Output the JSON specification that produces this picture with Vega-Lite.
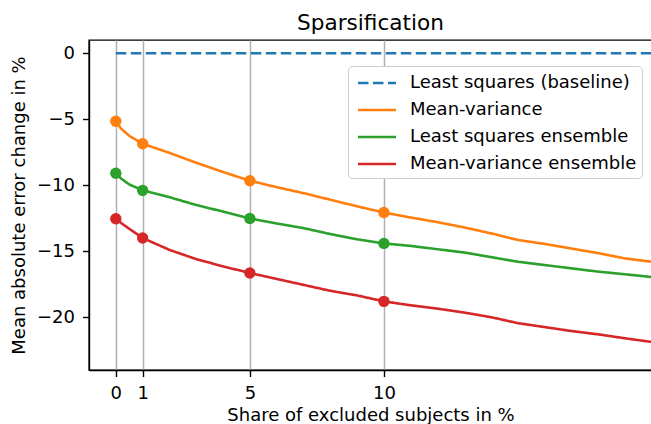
{
  "$schema": "https://vega.github.io/schema/vega-lite/v6.json",
  "width": 563,
  "height": 330,
  "autosize": {"type": "none"},
  "padding": {"left": 89, "top": 40, "right": 0, "bottom": 54},
  "background": "white",
  "title": {"text": "Sparsification", "fontSize": 21.6, "font": "DejaVu Sans", "fontWeight": "normal", "color": "black", "offset": 5, "anchor": "middle"},
  "config": {
    "font": "DejaVu Sans",
    "view": {"stroke": "black", "strokeWidth": 1.4},
    "axis": {
      "labelFont": "DejaVu Sans", "labelFontSize": 18, "labelColor": "black",
      "titleFont": "DejaVu Sans", "titleFontSize": 18, "titleFontWeight": "normal", "titleColor": "black",
      "domainColor": "black", "domainWidth": 1.4,
      "tickColor": "black", "tickWidth": 1.4, "tickSize": 6.5, "labelPadding": 8
    },
    "legend": {
      "labelFont": "DejaVu Sans", "labelFontSize": 18, "labelColor": "black", "labelLimit": 400
    }
  },
  "data": {"values": [
    {"s": "Least squares (baseline)", "x": 0, "y": 0},
    {"s": "Least squares (baseline)", "x": 20, "y": 0},
    {"s": "Mean-variance", "x": 0, "y": -5.15},
    {"s": "Mean-variance", "x": 0.2, "y": -5.72},
    {"s": "Mean-variance", "x": 0.5, "y": -6.25},
    {"s": "Mean-variance", "x": 1, "y": -6.86},
    {"s": "Mean-variance", "x": 2, "y": -7.55},
    {"s": "Mean-variance", "x": 3, "y": -8.3},
    {"s": "Mean-variance", "x": 4, "y": -9.0},
    {"s": "Mean-variance", "x": 5, "y": -9.66},
    {"s": "Mean-variance", "x": 6, "y": -10.15},
    {"s": "Mean-variance", "x": 7, "y": -10.6},
    {"s": "Mean-variance", "x": 8, "y": -11.1},
    {"s": "Mean-variance", "x": 9, "y": -11.6},
    {"s": "Mean-variance", "x": 10, "y": -12.07},
    {"s": "Mean-variance", "x": 11, "y": -12.45},
    {"s": "Mean-variance", "x": 12, "y": -12.8},
    {"s": "Mean-variance", "x": 13, "y": -13.2},
    {"s": "Mean-variance", "x": 14, "y": -13.65},
    {"s": "Mean-variance", "x": 15, "y": -14.15},
    {"s": "Mean-variance", "x": 16, "y": -14.45},
    {"s": "Mean-variance", "x": 17, "y": -14.8},
    {"s": "Mean-variance", "x": 18, "y": -15.15},
    {"s": "Mean-variance", "x": 19, "y": -15.55},
    {"s": "Mean-variance", "x": 20, "y": -15.8},
    {"s": "Least squares ensemble", "x": 0, "y": -9.1},
    {"s": "Least squares ensemble", "x": 0.2, "y": -9.5},
    {"s": "Least squares ensemble", "x": 0.5, "y": -9.94},
    {"s": "Least squares ensemble", "x": 1, "y": -10.39},
    {"s": "Least squares ensemble", "x": 2, "y": -10.91},
    {"s": "Least squares ensemble", "x": 3, "y": -11.5},
    {"s": "Least squares ensemble", "x": 4, "y": -12.0},
    {"s": "Least squares ensemble", "x": 5, "y": -12.52},
    {"s": "Least squares ensemble", "x": 6, "y": -12.9},
    {"s": "Least squares ensemble", "x": 7, "y": -13.25},
    {"s": "Least squares ensemble", "x": 8, "y": -13.7},
    {"s": "Least squares ensemble", "x": 9, "y": -14.1},
    {"s": "Least squares ensemble", "x": 10, "y": -14.41},
    {"s": "Least squares ensemble", "x": 11, "y": -14.6},
    {"s": "Least squares ensemble", "x": 12, "y": -14.85},
    {"s": "Least squares ensemble", "x": 13, "y": -15.1},
    {"s": "Least squares ensemble", "x": 14, "y": -15.45},
    {"s": "Least squares ensemble", "x": 15, "y": -15.8},
    {"s": "Least squares ensemble", "x": 16, "y": -16.05},
    {"s": "Least squares ensemble", "x": 17, "y": -16.3},
    {"s": "Least squares ensemble", "x": 18, "y": -16.55},
    {"s": "Least squares ensemble", "x": 19, "y": -16.75},
    {"s": "Least squares ensemble", "x": 20, "y": -16.96},
    {"s": "Mean-variance ensemble", "x": 0, "y": -12.54},
    {"s": "Mean-variance ensemble", "x": 0.2, "y": -12.87},
    {"s": "Mean-variance ensemble", "x": 0.5, "y": -13.3},
    {"s": "Mean-variance ensemble", "x": 1, "y": -14.0},
    {"s": "Mean-variance ensemble", "x": 2, "y": -14.9},
    {"s": "Mean-variance ensemble", "x": 3, "y": -15.6},
    {"s": "Mean-variance ensemble", "x": 4, "y": -16.15},
    {"s": "Mean-variance ensemble", "x": 5, "y": -16.65},
    {"s": "Mean-variance ensemble", "x": 6, "y": -17.1},
    {"s": "Mean-variance ensemble", "x": 7, "y": -17.55},
    {"s": "Mean-variance ensemble", "x": 8, "y": -18.0},
    {"s": "Mean-variance ensemble", "x": 9, "y": -18.35},
    {"s": "Mean-variance ensemble", "x": 10, "y": -18.8},
    {"s": "Mean-variance ensemble", "x": 11, "y": -19.1},
    {"s": "Mean-variance ensemble", "x": 12, "y": -19.35},
    {"s": "Mean-variance ensemble", "x": 13, "y": -19.65},
    {"s": "Mean-variance ensemble", "x": 14, "y": -20.0},
    {"s": "Mean-variance ensemble", "x": 15, "y": -20.45},
    {"s": "Mean-variance ensemble", "x": 16, "y": -20.75},
    {"s": "Mean-variance ensemble", "x": 17, "y": -21.05},
    {"s": "Mean-variance ensemble", "x": 18, "y": -21.3},
    {"s": "Mean-variance ensemble", "x": 19, "y": -21.6},
    {"s": "Mean-variance ensemble", "x": 20, "y": -21.88}
  ]},
  "encoding": {
    "x": {"field": "x", "type": "quantitative",
      "scale": {"domain": [-1, 20], "nice": false, "zero": false},
      "axis": {"values": [0, 1, 5, 10], "grid": true, "gridColor": "#b0b0b0", "gridWidth": 1.5, "title": "Share of excluded subjects in %", "titlePadding": 4}},
    "y": {"field": "y", "type": "quantitative",
      "scale": {"domain": [-24, 1], "nice": false, "zero": false},
      "axis": {"values": [0, -5, -10, -15, -20], "grid": false, "title": "Mean absolute error change in %", "titlePadding": 8}}
  },
  "layer": [
    {
      "mark": {"type": "line", "strokeWidth": 2.6},
      "encoding": {
        "color": {"field": "s", "type": "nominal",
          "scale": {"domain": ["Least squares (baseline)", "Mean-variance", "Least squares ensemble", "Mean-variance ensemble"], "range": ["#1f77b4", "#ff7f0e", "#2ca02c", "#d62728"]},
          "legend": {"title": null, "orient": "none", "legendX": 259, "legendY": 26, "symbolType": "M-0.667,0H2.952", "symbolSize": 441, "symbolStrokeWidth": 2.6, "labelOffset": 33, "padding": 5, "rowPadding": 6, "fillColor": "white", "strokeColor": "#cccccc", "cornerRadius": 4}},
        "strokeDash": {"field": "s", "type": "nominal",
          "scale": {"domain": ["Least squares (baseline)", "Mean-variance", "Least squares ensemble", "Mean-variance ensemble"], "range": [[10.5, 4.5], [1, 0], [1, 0], [1, 0]]},
          "legend": {"title": null, "orient": "none", "legendX": 259, "legendY": 26, "symbolType": "M-0.667,0H2.952", "symbolSize": 441, "symbolStrokeWidth": 2.6, "labelOffset": 33, "padding": 5, "rowPadding": 6, "fillColor": "white", "strokeColor": "#cccccc", "cornerRadius": 4}}
      }
    },
    {
      "transform": [
        {"filter": {"field": "x", "oneOf": [0, 1, 5, 10]}},
        {"filter": {"not": {"field": "s", "equal": "Least squares (baseline)"}}}
      ],
      "mark": {"type": "circle", "size": 130, "opacity": 1},
      "encoding": {
        "color": {"field": "s", "type": "nominal", "legend": null}
      }
    }
  ]
}
